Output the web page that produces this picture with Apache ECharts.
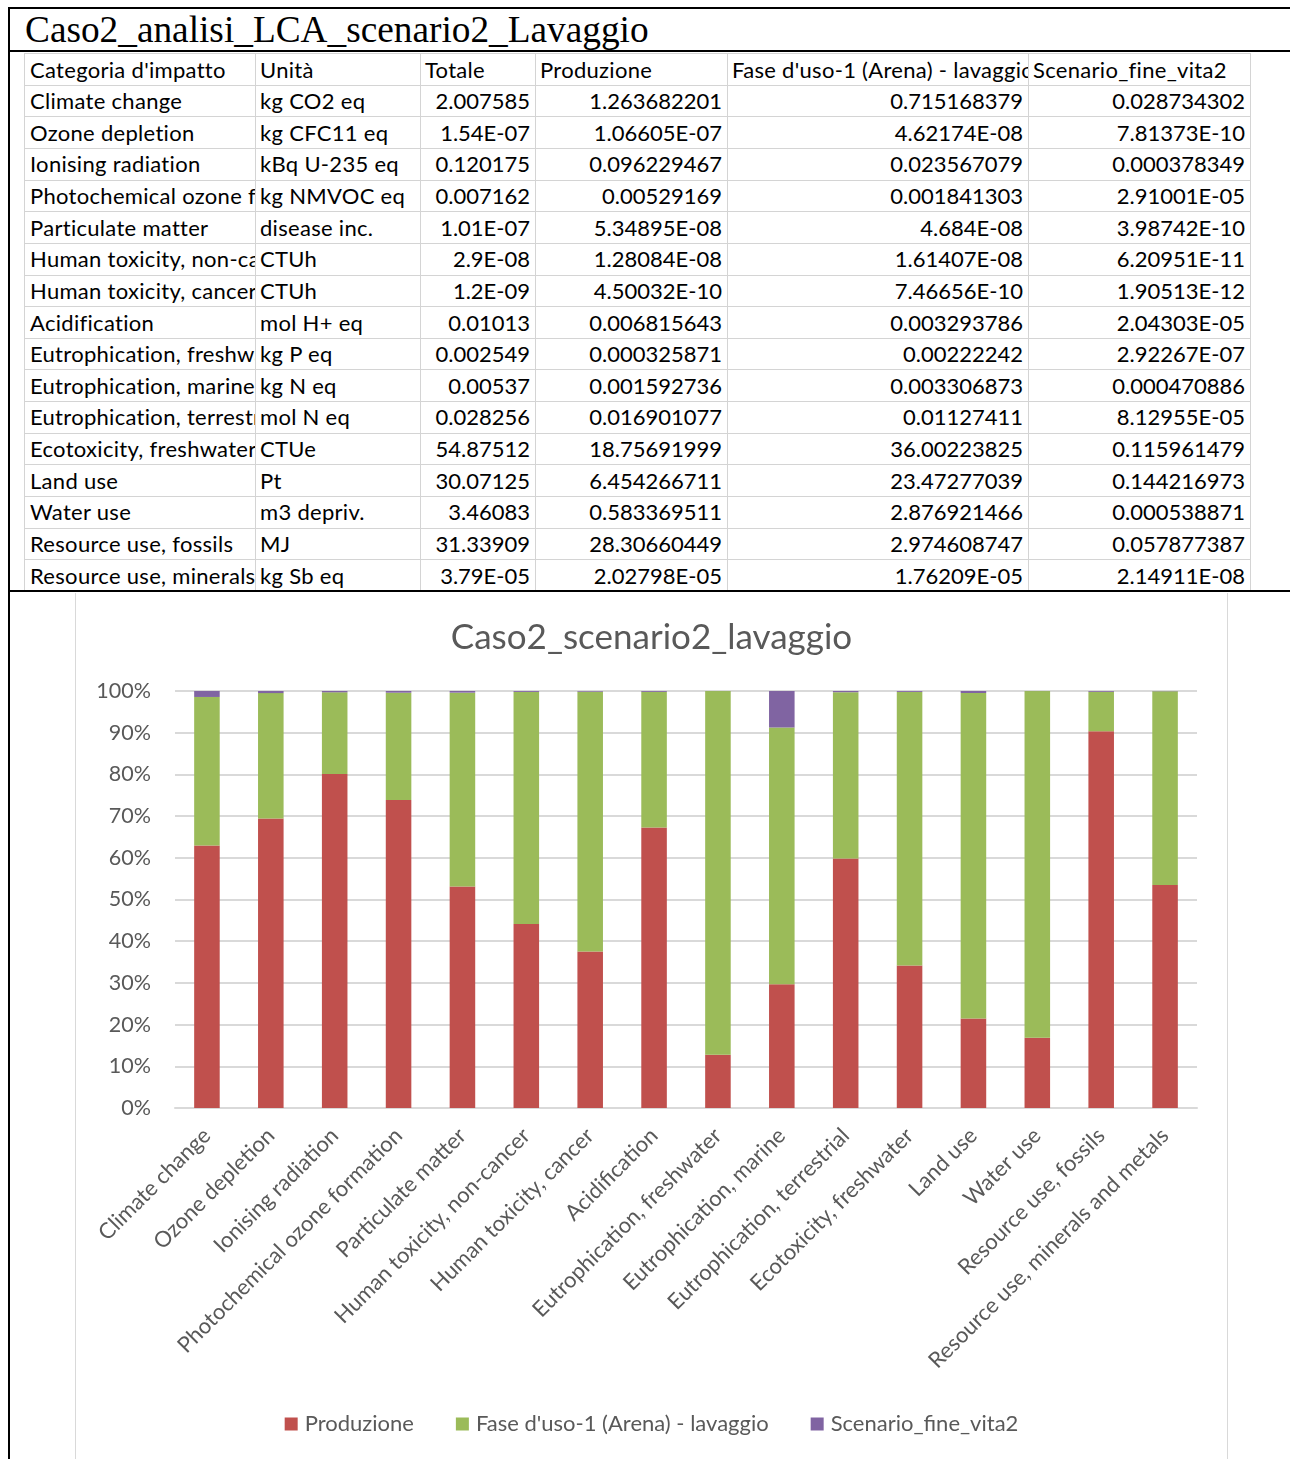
<!DOCTYPE html>
<html>
<head>
<meta charset="utf-8">
<script src="https://cdn.jsdelivr.net/npm/echarts@6/dist/echarts.min.js"></script>
<style>
  html, body { margin: 0; padding: 0; background: #ffffff; }
  body { width: 1290px; height: 1459px; position: relative; overflow: hidden; }
  .rule { position: absolute; background: #000000; }
  #sheetTitle {
    position: absolute; left: 25px; top: 8px;
    font-family: "Liberation Serif", "Times New Roman", serif;
    font-size: 37.3px; line-height: 44px; color: #000000; white-space: nowrap;
  }
  .cell {
    position: absolute; box-sizing: border-box;
    border-right: 1px solid #d4d4d4; border-bottom: 1px solid #d4d4d4;
    font-family: Lato, "Noto Sans", sans-serif; font-size: 22px; color: #000000;
    font-variant-ligatures: none;
    white-space: nowrap; overflow: hidden; padding: 0 5px;
    display: flex; align-items: center;
  }
  .cell.num { justify-content: flex-end; }
  .cell.txt { letter-spacing: 0.3px; }
  #chart {
    position: absolute; left: 75px; top: 593px; width: 1153px; height: 866px;
    box-sizing: border-box; border-left: 1px solid #d9d9d9; border-right: 1px solid #d9d9d9;
    background: #ffffff;
  }
</style>
</head>
<body>
<div class="rule" style="left:8px; top:7px; width:1282px; height:2px;"></div>
<div class="rule" style="left:8px; top:7px; width:2px; height:1452px;"></div>
<div id="sheetTitle">Caso2_analisi_LCA_scenario2_Lavaggio</div>
<div class="rule" style="left:8px; top:50px; width:1282px; height:2px;"></div>
<div id="sheet"></div>
<div class="rule" style="left:8px; top:590px; width:1282px; height:2px;"></div>
<div id="chart"></div>

<script>
// Impact categories and units of the LCA result sheet
const categories = [
  'Climate change', 'Ozone depletion', 'Ionising radiation', 'Photochemical ozone formation',
  'Particulate matter', 'Human toxicity, non-cancer', 'Human toxicity, cancer', 'Acidification',
  'Eutrophication, freshwater', 'Eutrophication, marine', 'Eutrophication, terrestrial',
  'Ecotoxicity, freshwater', 'Land use', 'Water use', 'Resource use, fossils',
  'Resource use, minerals and metals'
];
const units = [
  'kg CO2 eq', 'kg CFC11 eq', 'kBq U-235 eq', 'kg NMVOC eq', 'disease inc.', 'CTUh', 'CTUh',
  'mol H+ eq', 'kg P eq', 'kg N eq', 'mol N eq', 'CTUe', 'Pt', 'm3 depriv.', 'MJ', 'kg Sb eq'
];
const headers = ["Categoria d'impatto", 'Unità', 'Totale', 'Produzione',
  "Fase d'uso-1 (Arena) - lavaggio", 'Scenario_fine_vita2'];

// Values as shown in the sheet (Excel "General" format)
const totale = ['2.007585', '1.54E-07', '0.120175', '0.007162', '1.01E-07', '2.9E-08', '1.2E-09',
  '0.01013', '0.002549', '0.00537', '0.028256', '54.87512', '30.07125', '3.46083', '31.33909', '3.79E-05'];
const produzione = ['1.263682201', '1.06605E-07', '0.096229467', '0.00529169', '5.34895E-08',
  '1.28084E-08', '4.50032E-10', '0.006815643', '0.000325871', '0.001592736', '0.016901077',
  '18.75691999', '6.454266711', '0.583369511', '28.30660449', '2.02798E-05'];
const faseUso = ['0.715168379', '4.62174E-08', '0.023567079', '0.001841303', '4.684E-08',
  '1.61407E-08', '7.46656E-10', '0.003293786', '0.00222242', '0.003306873', '0.01127411',
  '36.00223825', '23.47277039', '2.876921466', '2.974608747', '1.76209E-05'];
const fineVita = ['0.028734302', '7.81373E-10', '0.000378349', '2.91001E-05', '3.98742E-10',
  '6.20951E-11', '1.90513E-12', '2.04303E-05', '2.92267E-07', '0.000470886', '8.12955E-05',
  '0.115961479', '0.144216973', '0.000538871', '0.057877387', '2.14911E-08'];

const seriesNames = ['Produzione', "Fase d'uso-1 (Arena) - lavaggio", 'Scenario_fine_vita2'];
const yTicks = [0, 10, 20, 30, 40, 50, 60, 70, 80, 90, 100];

// ---- spreadsheet grid ----
const colEdges = [24, 255, 420, 535, 727, 1028, 1250];
const rowTop = 53, rowH = 31.65;
const sheet = document.getElementById('sheet');
const rows = [headers].concat(categories.map((c, i) =>
  [c, units[i], totale[i], produzione[i], faseUso[i], fineVita[i]]));
rows.forEach((row, r) => {
  row.forEach((txt, c) => {
    const d = document.createElement('div');
    d.className = 'cell' + (r > 0 && c >= 2 ? ' num' : ' txt');
    d.style.left = colEdges[c] + 'px';
    d.style.width = (colEdges[c + 1] - colEdges[c] + 1) + 'px';
    d.style.top = (rowTop + r * rowH) + 'px';
    d.style.height = (rowH + 1) + 'px';
    if (c === 0) d.style.borderLeft = '1px solid #d4d4d4';
    if (r === 0) d.style.borderTop = '1px solid #d4d4d4';
    d.textContent = txt;
    sheet.appendChild(d);
  });
});

// ---- 100% stacked column chart ----
const raw = [produzione, faseUso, fineVita].map(a => a.map(Number));
const totals = categories.map((_, i) => raw[0][i] + raw[1][i] + raw[2][i]);
const shares = raw.map(a => a.map((v, i) => v / totals[i] * 100));
const colors = ['#C0504D', '#9BBB59', '#8064A2'];

const chart = echarts.init(document.getElementById('chart'), null, { renderer: 'canvas' });
const textColor = '#595959';
const font = 'Lato, "Noto Sans", sans-serif';
chart.setOption({
  animation: false,
  color: colors,
  title: {
    text: 'Caso2_scenario2_lavaggio',
    left: 'center', top: 22,
    textStyle: { fontFamily: font, fontSize: 35, fontWeight: 'normal', color: textColor }
  },
  legend: {
    bottom: 19, left: 'center',
    icon: 'rect', itemWidth: 13, itemHeight: 13, itemGap: 42,
    textStyle: { fontFamily: font, fontSize: 22, color: textColor, padding: [0, 0, 0, 2] },
    data: seriesNames
  },
  grid: { left: 99, right: 30, top: 98, bottom: 351, containLabel: false },
  xAxis: {
    type: 'category',
    data: categories,
    axisLine: { lineStyle: { color: '#d9d9d9', width: 2 } },
    axisTick: { show: false },
    axisLabel: {
      interval: 0, rotate: 45, margin: 24,
      fontFamily: font, fontSize: 22, color: textColor
    }
  },
  yAxis: {
    type: 'value', min: yTicks[0], max: yTicks[yTicks.length - 1], interval: 10,
    axisLine: { show: false }, axisTick: { show: false },
    splitLine: { lineStyle: { color: '#d9d9d9', width: 2 } },
    axisLabel: {
      margin: 24, fontFamily: font, fontSize: 21.5, color: textColor,
      formatter: v => v + '%'
    }
  },
  series: seriesNames.map((name, k) => ({
    name, type: 'bar', stack: 'total', barWidth: '40%',
    data: shares[k]
  }))
});
</script>
</body>
</html>
